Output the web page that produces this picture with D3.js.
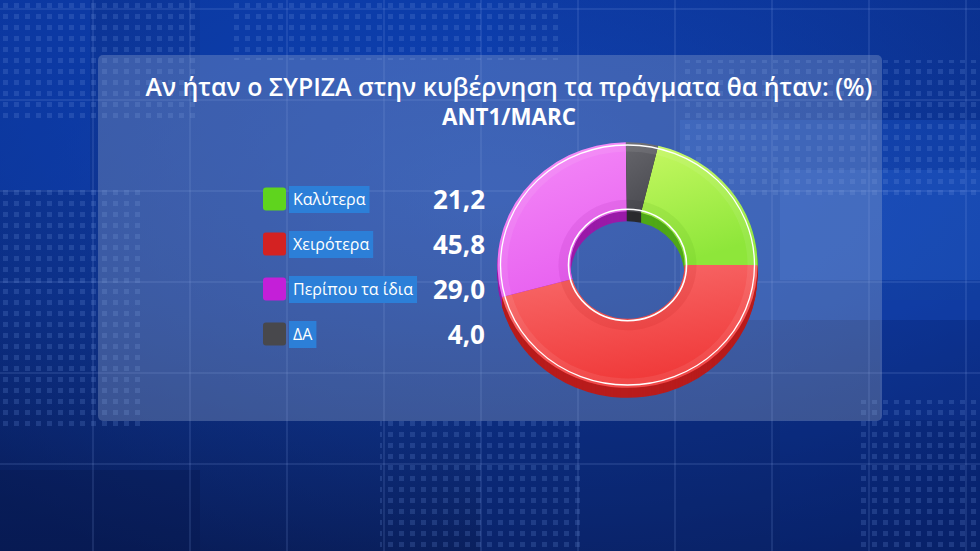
<!DOCTYPE html>
<html><head><meta charset="utf-8">
<script src="https://cdn.jsdelivr.net/npm/d3@7"></script>
<style>html,body{margin:0;padding:0;background:#0b2c80;overflow:hidden}svg{display:block}</style>
</head><body>
<svg id="c" width="980" height="551"></svg>
<script>
const title = "Αν ήταν ο ΣΥΡΙΖΑ στην κυβέρνηση τα πράγματα θα ήταν: (%)";
const subtitle = "ANT1/MARC";
const categories = ["Καλύτερα", "Χειρότερα", "Περίπου τα ίδια", "ΔΑ"];
const values = [21.2, 45.8, 29.0, 4.0];
const valueLabels = ["21,2", "45,8", "29,0", "4,0"];
const legendColors = ["#5fd41e", "#d42222", "#c41fd8", "#48484c"];
const topLight = ["#c6f862", "#f86c6c", "#f58cf8", "#66666c"];
const topDark = ["#8ee63a", "#f03a3a", "#e862f0", "#4c4c52"];
const sideColors = ["#4fa818", "#b81c1c", "#9a1aa8", "#2a2a2e"];

const svg = d3.select("#c");
const W = 980, H = 551;
const defs = svg.append("defs");

// background
const bg = defs.append("linearGradient").attr("id","bg").attr("x1",0).attr("y1",0).attr("x2",0).attr("y2",1);
bg.append("stop").attr("offset","0%").attr("stop-color","#0a3bb0");
bg.append("stop").attr("offset","55%").attr("stop-color","#0b3190");
bg.append("stop").attr("offset","100%").attr("stop-color","#0a1f5c");
svg.append("rect").attr("width",W).attr("height",H).attr("fill","url(#bg)");
const vg = defs.append("radialGradient").attr("id","vig").attr("cx","50%").attr("cy","35%").attr("r","75%");
vg.append("stop").attr("offset","0%").attr("stop-color","#1f58c8").attr("stop-opacity",0.35);
vg.append("stop").attr("offset","100%").attr("stop-color","#061850").attr("stop-opacity",0.45);
svg.append("rect").attr("width",W).attr("height",H).attr("fill","url(#vig)");

// decorative tiles
const tiles = [[0,0,90,190,"#0e46c0",0.35],[680,120,300,200,"#1c5ad0",0.35],[780,170,200,110,"#2a68d8",0.3],
  [0,470,200,81,"#071a50",0.4],[480,420,300,131,"#0a2a80",0.4],[780,420,200,131,"#0a2f90",0.35],
  [200,0,300,90,"#0a42b8",0.3],[880,300,100,120,"#0d3aa8",0.35]];
svg.selectAll("rect.tile").data(tiles).join("rect").attr("class","tile")
  .attr("x",d=>d[0]).attr("y",d=>d[1]).attr("width",d=>d[2]).attr("height",d=>d[3])
  .attr("fill",d=>d[4]).attr("opacity",d=>d[5]);

// dot pattern
const pat = defs.append("pattern").attr("id","dots").attr("width",11).attr("height",11).attr("patternUnits","userSpaceOnUse");
pat.append("rect").attr("x",3).attr("y",3).attr("width",5).attr("height",5).attr("fill","#6f95e0").attr("opacity",0.35);
const dotAreas = [[0,0,200,120],[680,60,300,140],[0,190,140,240],[380,420,200,131],[860,400,120,151],[230,0,330,60]];
svg.selectAll("rect.dots").data(dotAreas).join("rect").attr("class","dots")
  .attr("x",d=>d[0]).attr("y",d=>d[1]).attr("width",d=>d[2]).attr("height",d=>d[3])
  .attr("fill","url(#dots)").attr("opacity",0.6);

// grid lines
const gx = d3.range(-4, 967+1, 97);
const gy = d3.range(9, 560, 91);
svg.selectAll("line.gv").data(gx).join("line").attr("class","gv").attr("x1",d=>d).attr("x2",d=>d).attr("y1",0).attr("y2",H)
  .attr("stroke","#8fb0f0").attr("stroke-opacity",0.28).attr("stroke-width",1);
svg.selectAll("line.gh").data(gy).join("line").attr("class","gh").attr("y1",d=>d).attr("y2",d=>d).attr("x1",0).attr("x2",W)
  .attr("stroke","#8fb0f0").attr("stroke-opacity",0.28).attr("stroke-width",1);

// panel
svg.append("rect").attr("x",98).attr("y",55).attr("width",784).attr("height",366).attr("rx",5)
  .attr("fill","#9aaed0").attr("opacity",0.33);

// title
const ff = "'Open Sans', 'Noto Sans', sans-serif";
const t1 = svg.append("text").attr("x",509).attr("y",96).attr("text-anchor","middle")
  .attr("font-family",ff).attr("font-weight",600).attr("font-size",20).attr("fill","#fff").text(title);
const w1 = t1.node().getComputedTextLength();
t1.attr("font-size", 20*727/w1);
const t2 = svg.append("text").attr("x",509).attr("y",125).attr("text-anchor","middle")
  .attr("font-family",ff).attr("font-weight",700).attr("font-size",22).attr("fill","#fff").text(subtitle);
const w2 = t2.node().getComputedTextLength();
t2.attr("font-size", 22*134/w2);

// legend
const rowY = d3.scalePoint().domain(categories).range([199, 334]);
const lg = svg.append("g");
categories.forEach((c,i)=>{
  const y = rowY(c);
  lg.append("rect").attr("x",263).attr("y",y-11.5).attr("width",23).attr("height",23).attr("rx",3).attr("fill",legendColors[i]);
  const box = lg.append("rect").attr("x",289).attr("y",y-13).attr("height",27).attr("fill","#2c7fd8");
  const t = lg.append("text").attr("x",293).attr("y",y+5.5).attr("font-family",ff).attr("font-size",16)
    .attr("fill","#fff").text(c);
  box.attr("width", t.node().getComputedTextLength()+8);
  lg.append("text").attr("x",485).attr("y",y+9.5).attr("text-anchor","end").attr("font-family",ff)
    .attr("font-weight",700).attr("font-size",26).attr("fill","#fff").text(valueLabels[i]);
});

// donut
const cx = 627.5, cy = 265, sy = 0.945, rO = 130, rI = 57, depth = 10;
const startA = Math.PI/2 - values[0]/100*2*Math.PI;
const pie = d3.pie().sort(null).value(d=>d).startAngle(startA).endAngle(startA+2*Math.PI);
const arcs = pie(values);
const arc = d3.arc().innerRadius(rI).outerRadius(rO);

categories.forEach((c,i)=>{
  const g = defs.append("linearGradient").attr("id","g"+i).attr("x1",0).attr("y1",0).attr("x2",0.3).attr("y2",1);
  g.append("stop").attr("offset","0%").attr("stop-color",topLight[i]);
  g.append("stop").attr("offset","100%").attr("stop-color",topDark[i]);
});

const donut = svg.append("g");
for (let d = depth; d >= 1; d--) {
  donut.append("g").attr("transform",`translate(${cx},${cy+d}) scale(1,${sy})`)
    .selectAll("path").data(arcs).join("path").attr("d",arc).attr("fill",(a,i)=>sideColors[i]);
}
const topG = donut.append("g").attr("transform",`translate(${cx},${cy}) scale(1,${sy})`);
topG.selectAll("path.face").data(arcs).join("path").attr("class","face").attr("d",arc).attr("fill",(a,i)=>`url(#g${i})`);
const bevel = d3.arc().innerRadius(rI).outerRadius(rI+12);
topG.selectAll("path.bev").data(arcs).join("path").attr("class","bev").attr("d",bevel)
  .attr("fill",(a,i)=>sideColors[i]).attr("opacity",0.12);
const bevelO = d3.arc().innerRadius(rO-10).outerRadius(rO);
topG.selectAll("path.bevo").data(arcs).join("path").attr("class","bevo").attr("d",bevelO)
  .attr("fill","#ffffff").attr("opacity",0.08);
topG.append("circle").attr("r",rO-3).attr("fill","none").attr("stroke","#fff").attr("stroke-width",1.3).attr("vector-effect","non-scaling-stroke");
topG.append("circle").attr("r",rI+2).attr("fill","none").attr("stroke","#fff").attr("stroke-width",1.6).attr("vector-effect","non-scaling-stroke");
</script>
</body></html>
